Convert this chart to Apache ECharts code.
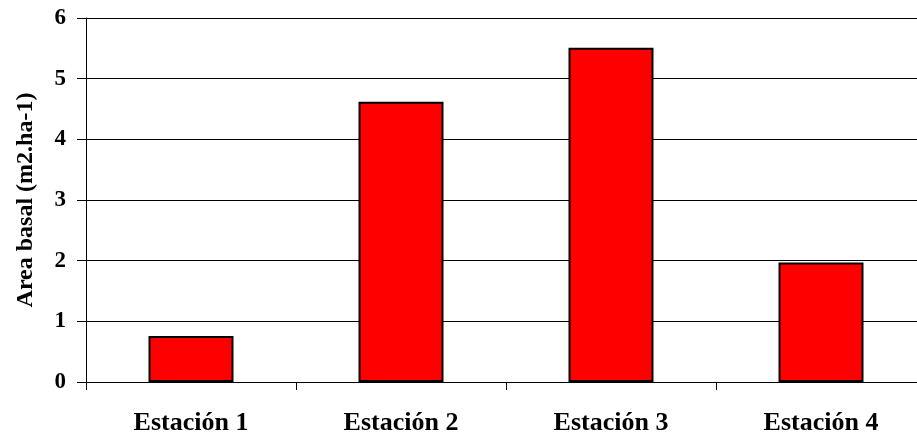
<!DOCTYPE html>
<html>
<head>
<meta charset="utf-8">
<script src="https://cdn.jsdelivr.net/npm/echarts@6/dist/echarts.min.js"></script>
<style>
  html, body { margin: 0; padding: 0; background: #fff; }
  #chart { width: 917px; height: 436px; }
</style>
</head>
<body>
<div id="chart"></div>
<script>
// Basal area per station
const categories = ['Estación 1', 'Estación 2', 'Estación 3', 'Estación 4'];
const basalArea = [0.76, 4.62, 5.51, 1.97];
const yTicks = [0, 1, 2, 3, 4, 5, 6];
const yTitle = 'Area basal (m2.ha-1)';

const font = '"Liberation Serif", "Times New Roman", serif';
const chart = echarts.init(document.getElementById('chart'));

chart.setOption({
  animation: false,
  grid: {
    left: 86, top: 18, right: -9, bottom: 54,
    show: false, containLabel: false, outerBoundsMode: 'none'
  },
  xAxis: {
    type: 'category',
    data: categories,
    axisLine: { lineStyle: { color: '#000', width: 1 } },
    axisTick: { show: true, length: 8, lineStyle: { color: '#000' } },
    axisLabel: {
      color: '#000', fontFamily: font, fontWeight: 'bold', fontSize: 26, margin: 28
    }
  },
  yAxis: {
    type: 'value',
    min: yTicks[0],
    max: yTicks[yTicks.length - 1],
    interval: 1,
    name: yTitle,
    nameLocation: 'middle',
    nameGap: 48,
    nameTextStyle: { color: '#000', fontFamily: font, fontWeight: 'bold', fontSize: 24 },
    axisLine: { show: true, lineStyle: { color: '#000', width: 1 } },
    axisTick: { show: true, length: 9, lineStyle: { color: '#000' } },
    axisLabel: {
      color: '#000', fontFamily: font, fontWeight: 'bold', fontSize: 23, margin: 20
    },
    splitLine: { show: true, lineStyle: { color: '#000', width: 1 } }
  },
  series: [{
    type: 'bar',
    data: basalArea,
    barWidth: 85,
    itemStyle: { color: '#ff0000', borderColor: '#000', borderWidth: 2 }
  }]
});
</script>
</body>
</html>
